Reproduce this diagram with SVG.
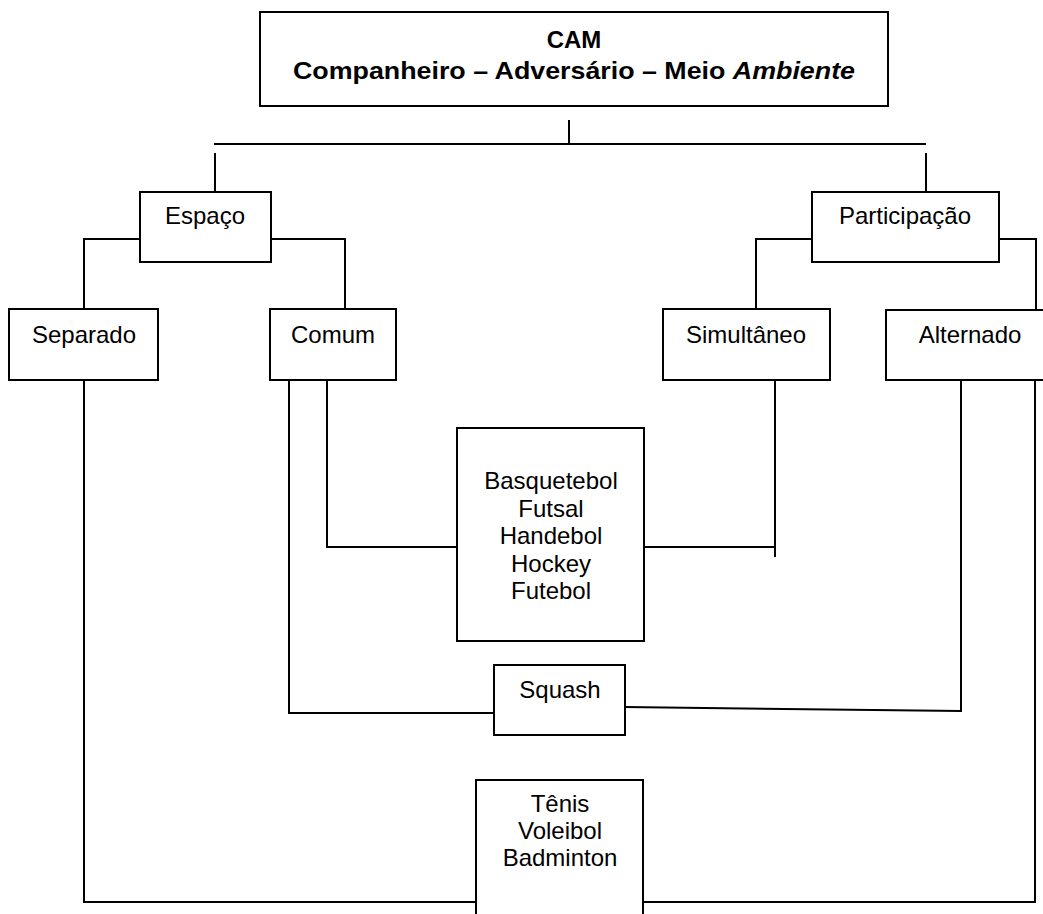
<svg xmlns="http://www.w3.org/2000/svg" width="1043" height="914" viewBox="0 0 1043 914">
<style>
rect{fill:#fff;stroke:#000;stroke-width:2}
.c path,.c line{fill:none;stroke:#000;stroke-width:2}
text{font-family:"Liberation Sans",Arial,sans-serif;font-size:24px;fill:#000;text-anchor:middle}
.b{font-weight:bold}
</style>
<rect x="0" y="0" width="1043" height="914" style="stroke:none"/>
<g class="c" id="connectors">
<line x1="569" y1="120" x2="569" y2="144"/>
<line x1="214" y1="144" x2="926" y2="144"/>
<line x1="215" y1="153" x2="215" y2="192"/>
<line x1="926" y1="153" x2="926" y2="192"/>
<path d="M140 239 H84 V309"/>
<path d="M271 239 H345 V309"/>
<path d="M812 239 H756 V309"/>
<path d="M999 239 H1036 V310"/>
<path d="M84 380 V902 H476"/>
<path d="M1035 380 V902 H643"/>
<path d="M327 380 V547 H457"/>
<path d="M289 380 V713 H494"/>
<path d="M644 547 H775"/>
<line x1="775" y1="380" x2="775" y2="557"/>
<path d="M625 707 L961 711 V380"/>
</g>
<g id="cam"><rect x="260" y="12" width="628" height="94"/>
<text class="b" x="574" y="48">CAM</text>
<text class="b" x="293" y="79" style="text-anchor:start" textLength="562" lengthAdjust="spacingAndGlyphs">Companheiro – Adversário – Meio <tspan font-style="italic">Ambiente</tspan></text></g>
<g id="espaco"><rect x="140" y="192" width="131" height="70"/><text x="205" y="224">Espaço</text></g>
<g id="participacao"><rect x="812" y="192" width="187" height="70"/><text x="905" y="224">Participação</text></g>
<g id="separado"><rect x="9" y="309" width="149" height="71"/><text x="84" y="343">Separado</text></g>
<g id="comum"><rect x="270" y="309" width="126" height="71"/><text x="333" y="343">Comum</text></g>
<g id="simultaneo"><rect x="663" y="309" width="167" height="71"/><text x="746" y="343">Simultâneo</text></g>
<g id="alternado"><rect x="886" y="310" width="168" height="70"/><text x="970" y="343">Alternado</text></g>
<g id="coletivos"><rect x="457" y="428" width="187" height="213"/>
<text x="551" y="489">Basquetebol</text><text x="551" y="517">Futsal</text><text x="551" y="544">Handebol</text><text x="551" y="572">Hockey</text><text x="551" y="599">Futebol</text></g>
<g id="squash"><rect x="494" y="665" width="131" height="70"/><text x="560" y="698">Squash</text></g>
<g id="rede"><rect x="476" y="780" width="167" height="150"/>
<text x="560" y="812">Tênis</text><text x="560" y="839">Voleibol</text><text x="560" y="866">Badminton</text></g>
</svg>
